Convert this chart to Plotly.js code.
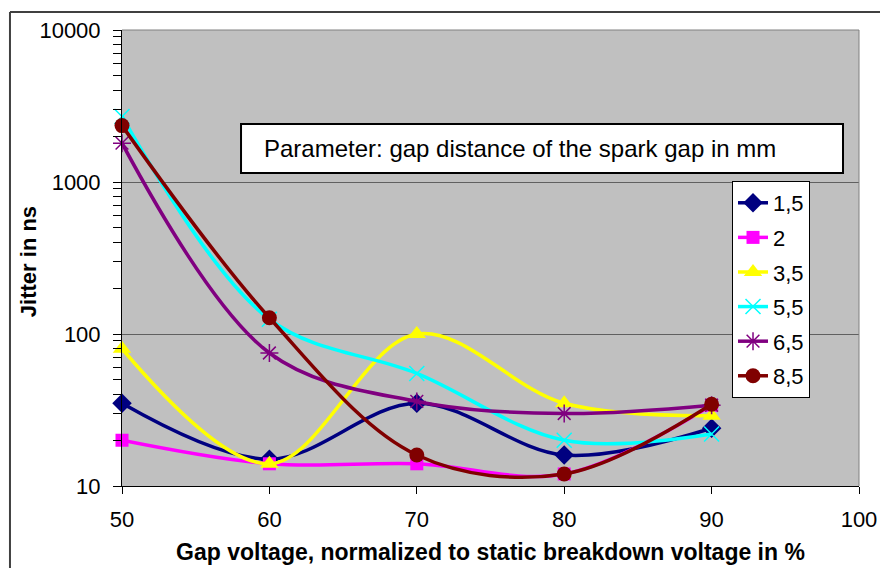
<!DOCTYPE html>
<html>
<head>
<meta charset="utf-8">
<script src="https://cdn.plot.ly/plotly-3.0.1.min.js"></script>
<style>
html,body{margin:0;padding:0;background:#fff;}
#chart{width:880px;height:568px;}
</style>
</head>
<body>
<div id="chart"></div>
<script>
// Data
const gapVoltage = [50, 60, 70, 80, 90];
const seriesNames = ['1,5', '2', '3,5', '5,5', '6,5', '8,5'];
const jitter_1_5 = [35, 15, 35, 16, 24];
const jitter_2   = [20, 14, 14, 12, 34];
const jitter_3_5 = [80, 14, 100, 35, 29];
const jitter_5_5 = [2700, 125, 55, 20, 22];
const jitter_6_5 = [1800, 75, 36, 30, 34];
const jitter_8_5 = [2350, 128, 16, 12, 34.5];
const xTickVals = [50, 60, 70, 80, 90, 100];
const yTickVals = [10, 100, 1000, 10000];
const yTickText = ['10', '100', '1000', '10000'];
const boxText = 'Parameter: gap distance of the spark gap in mm';
const yTitle = 'Jitter in ns';
const xTitle = 'Gap voltage, normalized to static breakdown voltage in %';

const seriesData = [jitter_1_5, jitter_2, jitter_3_5, jitter_5_5, jitter_6_5, jitter_8_5];
const styles = [
  {color:'#000080', symbol:'diamond', size:15, open:false},
  {color:'#FF00FF', symbol:'square', size:13, open:false},
  {color:'#FFFF00', symbol:'triangle-up', size:16, open:false},
  {color:'#00FFFF', symbol:'x-thin-open', size:15, open:true},
  {color:'#800080', symbol:'asterisk-open', size:15, open:true},
  {color:'#800000', symbol:'circle', size:15, open:false}
];

const FONT = 'Liberation Sans, Arial, sans-serif';

const traces = seriesData.map((ys, i) => {
  const st = styles[i];
  return {
    type: 'scatter',
    mode: 'lines+markers',
    x: gapVoltage,
    y: ys,
    name: seriesNames[i],
    legendgroup: 'g' + i,
    line: {color: st.color, width: 3.5, shape: 'spline', smoothing: 1},
    marker: {
      symbol: st.symbol,
      size: st.size,
      color: st.color,
      line: {color: st.color, width: st.open ? 1.5 : 0}
    },
    cliponaxis: false
  };
});

// minor tick positions (2..9 in each decade)
const minorVals = [];
[10, 100, 1000].forEach(d => { for (let k = 2; k <= 9; k++) minorVals.push(k * d); });

const layout = {
  width: 880,
  height: 568,
  margin: {l: 122, r: 21, t: 30, b: 82, pad: 0},
  paper_bgcolor: '#ffffff',
  plot_bgcolor: '#C0C0C0',
  font: {family: FONT, color: '#000', size: 22},
  showlegend: true,
  legend: {
    x: 0.8277, y: 0.6689, xanchor: 'left', yanchor: 'top',
    bgcolor: '#ffffff', bordercolor: '#000000', borderwidth: 1,
    font: {family: FONT, size: 22, color: '#000'},
    tracegroupgap: 3,
    itemwidth: 30
  },
  xaxis: {
    range: [50, 100],
    tickmode: 'array',
    tickvals: xTickVals,
    ticktext: xTickVals.map(String),
    ticks: 'outside', ticklen: 7, tickcolor: '#000', tickwidth: 1,
    showline: true, linecolor: '#000', linewidth: 1,
    showgrid: false, zeroline: false,
    tickfont: {family: FONT, size: 22},
    ticklabelstandoff: 7,
    title: {text: xTitle,
            font: {family: FONT, size: 23, color: '#000', weight: 'bold'}, standoff: 12}
  },
  yaxis: {
    type: 'log',
    range: [1, 4],
    tickmode: 'array',
    tickvals: yTickVals,
    ticktext: yTickText,
    ticks: 'outside', ticklen: 8, tickcolor: '#000', tickwidth: 1,
    minor: {tickmode: 'array', tickvals: minorVals, ticks: 'outside', ticklen: 8, tickcolor: '#000', tickwidth: 1, showgrid: false},
    showline: true, linecolor: '#000', linewidth: 1,
    showgrid: true, gridcolor: '#606060', gridwidth: 1,
    zeroline: false,
    tickfont: {family: FONT, size: 22},
    ticklabelstandoff: 8
  },
  yaxis2: {
    type: 'log',
    range: [1, 4],
    overlaying: 'y',
    side: 'left',
    anchor: 'x',
    tickmode: 'array',
    tickvals: yTickVals,
    showticklabels: false,
    ticks: 'inside', ticklen: 7, tickcolor: '#000', tickwidth: 1,
    minor: {tickmode: 'array', tickvals: minorVals, ticks: 'inside', ticklen: 7, tickcolor: '#000', tickwidth: 1, showgrid: false},
    showgrid: false, zeroline: false, showline: false
  },
  shapes: [
    // plot area border (top & right)
    {type: 'line', xref: 'paper', yref: 'paper', x0: 0, x1: 1, y0: 1, y1: 1, line: {color: '#808080', width: 1}, layer: 'below'},
    {type: 'line', xref: 'paper', yref: 'paper', x0: 1, x1: 1, y0: 0, y1: 1, line: {color: '#808080', width: 1}, layer: 'above'},
    // text box
    {type: 'rect', xref: 'paper', yref: 'paper', x0: 0.1615, x1: 0.9783, y0: 0.6864, y1: 0.7939,
     fillcolor: '#ffffff', line: {color: '#000000', width: 2}, layer: 'above'},
    // outer chart frame (left & top)
    {type: 'line', xref: 'paper', yref: 'paper', x0: -0.152, x1: -0.152, y0: -0.3, y1: 1.0395, line: {color: '#404040', width: 2}},
    {type: 'line', xref: 'paper', yref: 'paper', x0: -0.152, x1: 1.2, y0: 1.0395, y1: 1.0395, line: {color: '#404040', width: 2}}
  ],
  annotations: [
    {xref: 'paper', yref: 'paper', x: 0.1900, y: 0.740, xanchor: 'left', yanchor: 'middle',
     text: boxText, showarrow: false, font: {family: FONT, size: 24, color: '#000'}},
    {xref: 'paper', yref: 'paper', x: -0.1275, y: 0.491, xanchor: 'center', yanchor: 'middle',
     textangle: -90, text: '<b>' + yTitle + '</b>', showarrow: false,
     font: {family: FONT, size: 22, color: '#000'}}
  ]
};

Plotly.newPlot('chart', traces, layout, {displayModeBar: false, staticPlot: true});
</script>
</body>
</html>
